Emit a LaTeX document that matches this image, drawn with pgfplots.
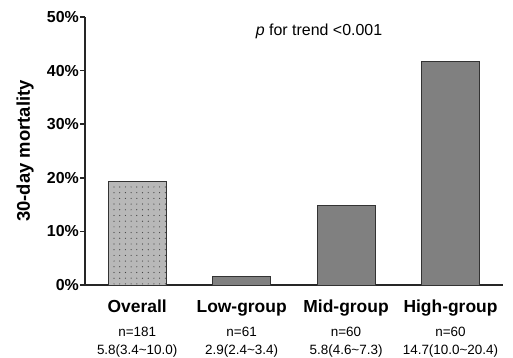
\documentclass[border=0pt]{standalone}
\usepackage{pgfplots}
\pgfplotsset{compat=1.18}
\usepackage{fontspec}
\setmainfont{Liberation Sans}
\usetikzlibrary{patterns.meta}
\definecolor{barfill}{HTML}{808080}
\definecolor{dotfill}{HTML}{B8B8B8}
\begin{document}
\begin{tikzpicture}
\useasboundingbox (-85bp,-73bp) rectangle (428bp,285bp);
\begin{axis}[
  scale only axis,
  width=417.7bp, height=268bp,
  xmin=-0.5, xmax=3.5, ymin=0, ymax=50,
  axis x line=bottom, axis y line=left,
  axis line style={-, line width=1.8bp, black!85},
  xtick={0,1,2,3},
  xticklabels={
    {{\fontsize{17.5}{18}\bfseries Overall}\\[6bp]n=181\\5.8(3.4\textasciitilde10.0)},
    {{\fontsize{17.5}{18}\bfseries Low-group}\\[6bp]n=61\\2.9(2.4\textasciitilde3.4)},
    {{\fontsize{17.5}{18}\bfseries Mid-group}\\[6bp]n=60\\5.8(4.6\textasciitilde7.3)},
    {{\fontsize{17.5}{18}\bfseries High-group}\\[6bp]n=60\\14.7(10.0\textasciitilde20.4)}
  },
  xticklabel style={align=center, font=\fontsize{13.5}{18}\selectfont, inner sep=0pt, yshift=-10bp},
  major x tick style={draw=none},
  ytick={0,10,20,30,40,50},
  yticklabels={0\%,10\%,20\%,30\%,40\%,50\%},
  yticklabel style={font=\fontsize{16}{18}\bfseries\selectfont, inner sep=1bp},
  tick align=outside,
  major tick length=5bp,
  major y tick style={line width=1.8bp, black!85},
  ylabel={30-day mortality},
  ylabel style={font=\fontsize{18.5}{20}\bfseries\selectfont, at={(axis description cs:0,0.5)}, anchor=south, inner sep=0pt, yshift=51bp},
  ybar, bar width=58bp, bar shift=0pt,
  clip=false,
]
\addplot[fill=dotfill, draw=black!80, line width=1bp,
  postaction={pattern={Dots[distance=5.7bp, radius=0.6bp]}, pattern color=black!75}]
  coordinates {(0,19.4)};
\addplot[fill=barfill, draw=black!80, line width=1bp]
  coordinates {(1,1.6) (2,14.9) (3,41.7)};
\node[anchor=base, font=\fontsize{16}{18}\selectfont] at (axis cs:1.741,46.5) {\textit{p} for trend <0.001};
\end{axis}
\end{tikzpicture}
\end{document}
